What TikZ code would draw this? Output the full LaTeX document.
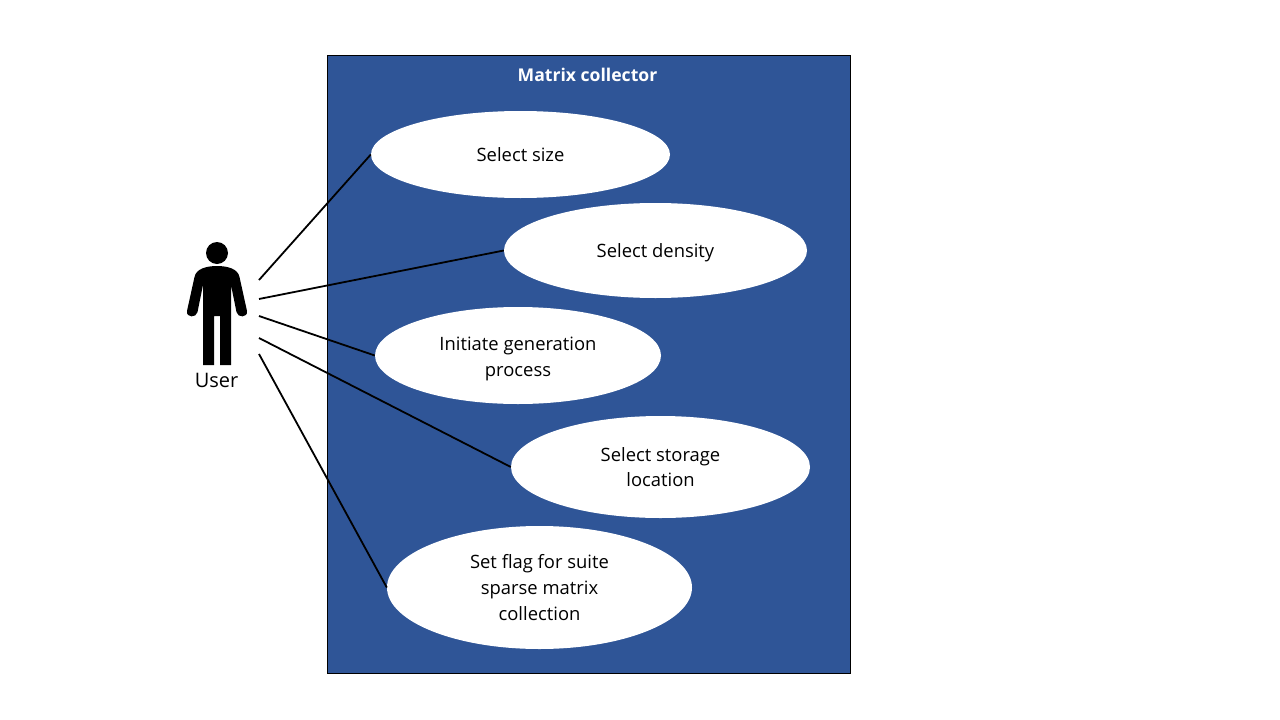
\documentclass[tikz,border=0pt]{standalone}
\usepackage{fontspec}
\setmainfont{Open Sans}
\definecolor{panelblue}{HTML}{2F5597}
\usetikzlibrary{shapes.geometric}
\tikzset{
    usecase/.style={ellipse, fill=white, text=black, align=center, inner sep=0pt, font=\fontsize{18.4}{25.8}\selectfont},
    link/.style={black, line width=1.8pt}
}
\begin{document}
\begin{tikzpicture}[x=1pt,y=-1pt]
    % Fix the page size
    \useasboundingbox (0,0) rectangle (1280,720);

    % Draw the system box
    \node[draw=black, fill=panelblue, minimum width=523pt, minimum height=618pt, inner sep=0pt, line width=0.7pt] (system) at (589,364) {};
    \node[white, font=\fontsize{17.6}{20}\selectfont\bfseries] (title) at (587.5,74.5) {Matrix collector};

    % Draw the use cases
    \node[usecase, minimum width=299pt, minimum height=87pt] (size) at (520.5,154.5) {Select size};
    \node[usecase, minimum width=303pt, minimum height=95pt] (density) at (655.5,250.5) {\rule{0pt}{18.5pt}Select density};
    \node[usecase, minimum width=286pt, minimum height=97pt] (generation) at (518,355.5) {\rule{0pt}{21pt}Initiate generation\\process};
    \node[usecase, minimum width=299pt, minimum height=102pt] (storage) at (660.5,467) {Select storage\\location};
    \node[usecase, minimum width=305pt, minimum height=123pt] (flag) at (539.5,587.5) {Set flag for suite\\sparse matrix\\collection};

    % Draw the user figure
    \fill[black] (217,253) circle (11pt);
    \fill[black] (203,365) -- (203,285) -- (197.5,312) .. controls (196.5,318) and (186,318) .. (187,311) -- (194.5,277) .. controls (196,269) and (206,266) .. (217,266) .. controls (228,266) and (238,269) .. (239.5,277) -- (247,311) .. controls (248,318) and (237.5,318) .. (236.5,312) -- (231,285) -- (231,365) -- (220,365) -- (220,316) -- (214,316) -- (214,365) -- cycle;
    \node[font=\fontsize{20}{22}\selectfont] (user) at (216.5,380.5) {User};

    % Free ends next to the figure
    \coordinate (u1) at (259,280);
    \coordinate (u2) at (259,299);
    \coordinate (u3) at (259,316);
    \coordinate (u4) at (259,338);
    \coordinate (u5) at (259,354);

    % Draw the associations
    \draw[link] (u1) -- (size.west);
    \draw[link] (u2) -- (density.west);
    \draw[link] (u3) -- (generation.west);
    \draw[link] (u4) -- (storage.west);
    \draw[link] (u5) -- (flag.west);
\end{tikzpicture}
\end{document}
